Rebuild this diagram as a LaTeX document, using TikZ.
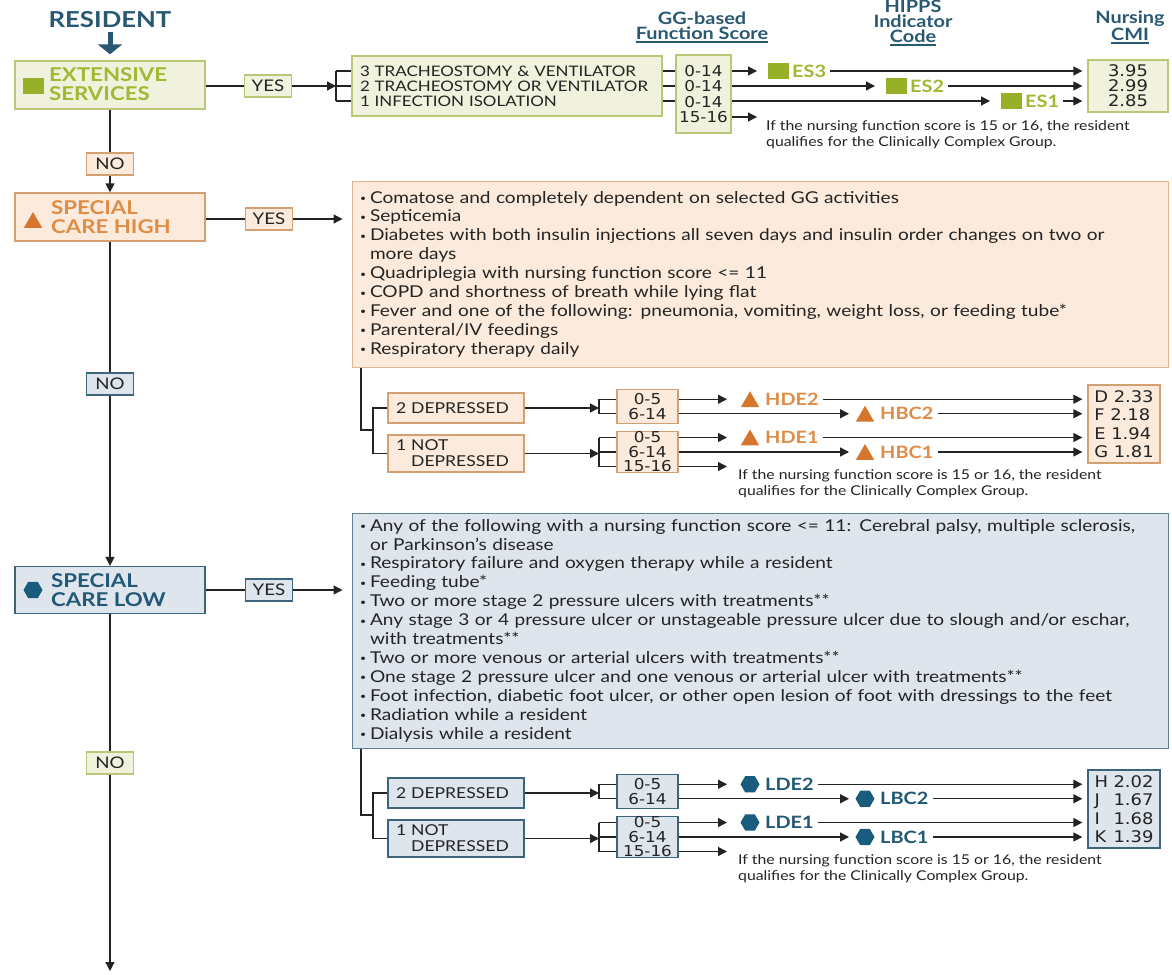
\documentclass[tikz,border=0pt]{standalone}
\usepackage{fontspec}
\setmainfont{Lato}[FakeStretch=1.17]
\newfontfamily\numfont{DejaVu Sans}[FakeStretch=1.12]
\usetikzlibrary{arrows.meta,shapes.geometric,positioning}

\definecolor{ink}{RGB}{35,35,35}
\definecolor{hdr}{RGB}{40,88,114}
\definecolor{gfill}{RGB}{240,242,222}
\definecolor{gline}{RGB}{188,198,118}
\definecolor{gtext}{RGB}{160,184,50}
\definecolor{gicon}{RGB}{150,176,40}
\definecolor{ofill}{RGB}{252,235,220}
\definecolor{oline}{RGB}{212,160,114}
\definecolor{olist}{RGB}{222,184,150}
\definecolor{otext}{RGB}{222,140,70}
\definecolor{oicon}{RGB}{214,118,44}
\definecolor{bfill}{RGB}{223,229,237}
\definecolor{bline}{RGB}{62,100,124}
\definecolor{blist}{RGB}{96,128,148}
\definecolor{btext}{RGB}{32,88,118}
\definecolor{bicon}{RGB}{26,92,126}

\newcommand\fsz[2]{\fontsize{#1}{#2}\selectfont}
\newcommand\hul[1]{\setbox0\hbox{#1}\rlap{\rule[-3.5pt]{\wd0}{1.6pt}}\box0}
\newcommand\bu{\makebox[10pt][l]{\raisebox{1.5pt}{\fsz{9}{9}\textbullet}}}
\newcommand\hangi{\hspace*{10pt}}
\newcommand\ccnote{If the nursing function score is 15 or 16, the resident\\qualifies for the Clinically Complex Group.}
\newcommand\cmih{D 2.33\\F 2.18\\E 1.94\\G 1.81}
\newcommand\cmil{\makebox[19pt][l]{H}2.02\\\makebox[19pt][l]{J}1.67\\\makebox[19pt][l]{I}1.68\\\makebox[19pt][l]{K}1.39}

\begin{document}
\begin{tikzpicture}[x=1pt,y=-1pt,
   conn/.style={draw=ink,line width=1.3pt},
   arr/.style={conn,-{Triangle[length=9pt,width=9pt]}},
   box/.style={draw,line width=1.3pt,inner sep=0pt,text=ink},
   gbox/.style={box,draw=gline,fill=gfill},
   obox/.style={box,draw=oline,fill=ofill},
   bbox/.style={box,draw=bline,fill=bfill},
   wh/.style 2 args={minimum width=#1,minimum height=#2},
   yn/.style={wh={47}{22},font=\fsz{16}{16}},
   head/.style={anchor=west,align=left,inner sep=0pt,font=\bfseries\fsz{19}{19.5}},
   hd/.style={align=center,inner sep=0pt,text=hdr,font=\bfseries\fsz{17}{15}},
   code/.style={anchor=west,inner sep=0pt,font=\bfseries\fsz{17}{17}},
   num/.style={align=center,font=\numfont\fsz{16}{15}},
   note/.style={anchor=north west,align=left,inner sep=0pt,text=ink,font=\fsz{13.5}{16.5}},
   list/.style={line width=1pt,text width=800,align=left,font=\fsz{16.3}{18.9}},
   sqicon/.style={fill=gicon,inner sep=0pt,wh={21}{16}},
   triicon/.style={regular polygon,regular polygon sides=3,fill=oicon,inner sep=0pt,minimum size=21,yshift=-2.5pt},
   hexicon/.style={regular polygon,regular polygon sides=6,fill=bicon,inner sep=0pt,minimum size=19}]
 \useasboundingbox (0,0) rectangle (1172,974);
 \fill[white] (0,0) rectangle (1172,974);

 % column heads
 \node[hd] (h-gg) at (702,27.5) {GG-based\\\hul{Function Score}};
 \node[hd] (h-hipps) at (913,23) {HIPPS\\Indicator\\\hul{Code}};
 \node[hd] (h-cmi) at (1130,27.5) {Nursing\\\hul{CMI}};

 % extensive services
 \node[font=\bfseries\fsz{22}{22},text=hdr] (res) at (110,20) {RESIDENT};
 \node[gbox,wh={190}{48}] (es) at (110,85) {};
 \draw[hdr,line width=5pt,-{Triangle[length=10pt,width=24pt]},shorten >=6pt] (res) -- (es);
 \node[sqicon] (es-ic) at (33,86) {};
 \node[head,text=gtext] (es-hd) at (49,84) {EXTENSIVE\\SERVICES};
 \node[gbox,yn] (es-yes) at (268,86) {YES};
 \draw[conn] (es.east |- es-yes) -- (es-yes);
 \node[gbox,wh={310}{60},text width=294,align=left,font=\fsz{14.5}{15}] (es-it) at (507,86)
   {3 TRACHEOSTOMY \& VENTILATOR\\2 TRACHEOSTOMY OR VENTILATOR\\1 INFECTION ISOLATION};
 \coordinate (es-br) at (336,86);
 \draw[arr] (es-yes) -- (es-br);
 \draw[conn] (es-br |- 0,71) -- (es-br |- 0,101);
 \node[gbox,num,wh={55}{78},font=\numfont\fsz{15}{15.3}] (es-sc) at (703.5,94) {0-14\\0-14\\0-14\\15-16};
 \node[gbox,num,wh={80}{52}] (es-cmi) at (1128,86) {3.95\\2.99\\2.85};
 \foreach \yy in {71,86,101}
 {\draw[conn] (es-br |- 0,\yy) -- (es-it.west |- 0,\yy);
  \draw[conn] (es-it.east |- 0,\yy) -- (es-sc.west |- 0,\yy);}
 \foreach \esn/\yy/\xa in {3/71/757,2/86/875,1/101/990}
 {\coordinate (es\esn-t) at (\xa,\yy);
  \node[sqicon] (es\esn-ic) at (\xa+21,\yy) {};
  \node[code,text=gtext] (es\esn) at (\xa+35,\yy) {ES\esn};
  \draw[arr] (es-sc.east |- es\esn-t) -- (es\esn-t);
  \draw[arr,shorten <=4pt,shorten >=5pt] (es\esn) -- (es-cmi.west |- es\esn);}
 \coordinate (es-q) at (757,117);
 \draw[arr] (es-sc.east |- es-q) -- (es-q);
 \node[note] (es-note) at (766,120) {\ccnote};

 % special care high
 \node[obox,yn] (no1) at (110,164) {NO};
 \node[obox,wh={190}{48}] (sch) at (110,217) {};
 \draw[conn] (es) -- (no1);
 \draw[arr] (no1) -- (sch);
 \node[triicon] (sch-ic) at (33,220) {};
 \node[head,text=otext] (sch-hd) at (51,217) {SPECIAL\\CARE HIGH};
 \node[obox,yn] (sch-yes) at (269,219) {YES};
 \node[obox,list,draw=olist,wh={816}{186}] (sch-list) at (760,274) {%
   \bu Comatose and completely dependent on selected GG activities\\
   \bu Septicemia\\
   \bu Diabetes with both insulin injections all seven days and insulin order changes on two or\\
   \hangi more days\\
   \bu Quadriplegia with nursing function score <= 11\\
   \bu COPD and shortness of breath while lying flat\\
   \bu Fever and one of the following: pneumonia, vomiting, weight loss, or feeding tube*\\
   \bu Parenteral/IV feedings\\
   \bu Respiratory therapy daily};
 \draw[conn] (sch.east |- sch-yes) -- (sch-yes);
 \draw[arr,shorten >=9pt] (sch-yes) -- (sch-yes -| sch-list.west);

 % special care low
 \node[bbox,yn] (no2) at (110,384) {NO};
 \node[bbox,wh={190}{47}] (scl) at (110,590) {};
 \draw[conn] (sch) -- (no2);
 \draw[arr] (no2) -- (scl);
 \node[hexicon] (scl-ic) at (33,590) {};
 \node[head,text=btext] (scl-hd) at (51,590) {SPECIAL\\CARE LOW};
 \node[bbox,yn] (scl-yes) at (269,590) {YES};
 \node[bbox,list,draw=blist,wh={816}{235}] (scl-list) at (760,630.5) {%
   \bu Any of the following with a nursing function score <= 11: Cerebral palsy, multiple sclerosis,\\
   \hangi or Parkinson's disease\\
   \bu Respiratory failure and oxygen therapy while a resident\\
   \bu Feeding tube*\\
   \bu Two or more stage 2 pressure ulcers with treatments**\\
   \bu Any stage 3 or 4 pressure ulcer or unstageable pressure ulcer due to slough and/or eschar,\\
   \hangi with treatments**\\
   \bu Two or more venous or arterial ulcers with treatments**\\
   \bu One stage 2 pressure ulcer and one venous or arterial ulcer with treatments**\\
   \bu Foot infection, diabetic foot ulcer, or other open lesion of foot with dressings to the feet\\
   \bu Radiation while a resident\\
   \bu Dialysis while a resident};
 \draw[conn] (scl.east |- scl-yes) -- (scl-yes);
 \draw[arr,shorten >=9pt] (scl-yes) -- (scl-yes -| scl-list.west);

 \node[gbox,yn] (no3) at (110,763) {NO};
 \coordinate (down) at (110,971);
 \draw[conn] (scl) -- (no3);
 \draw[arr] (no3) -- (down);

 % depression splits
 \foreach \s/\dy/\bx/\cc/\ic/\p/\cm in {sch/0/obox/otext/triicon/H/\cmih,scl/385/bbox/btext/hexicon/L/\cmil}
 {\coordinate (\s-fork) at (373,430+\dy);
  \draw[conn] (\s-list.south -| 361,0) |- (\s-fork);
  \node[\bx,wh={136}{30},text width=120,align=left,font=\fsz{15}{16}] (\s-d2) at (456,408+\dy) {2 DEPRESSED};
  \node[\bx,wh={136}{37},text width=120,align=left,font=\fsz{15}{16}] (\s-d1) at (456,453.5+\dy) {1 NOT\\\phantom{1 }DEPRESSED};
  \draw[conn] (\s-d2.west) -| (\s-fork);
  \draw[conn] (\s-d1.west) -| (\s-fork);
  \node[\bx,num,wh={61}{34},font=\numfont\fsz{15}{14.5}] (\s-sa) at (647.5,406.5+\dy) {0-5\\6-14};
  \node[\bx,num,wh={61}{40},font=\numfont\fsz{15}{14.5}] (\s-sb) at (647.5,452+\dy) {0-5\\6-14\\15-16};
  \node[\bx,num,align=left,wh={72}{78},font=\numfont\fsz{16}{18.5}] (\s-cmi) at (1124,424+\dy) {\cm};
  \coordinate (\s-ba) at (599,408+\dy);
  \coordinate (\s-bb) at (599,453.5+\dy);
  \draw[arr] (\s-d2) -- (\s-ba);
  \draw[arr] (\s-d1) -- (\s-bb);
  \draw[conn] (\s-ba |- 0,399.25+\dy) -- (\s-ba |- 0,413.75+\dy);
  \draw[conn] (\s-bb |- 0,437.5+\dy) -- (\s-bb |- 0,466.5+\dy);
  \foreach \yy in {399.25,413.75}
   \draw[conn] (\s-ba |- 0,\yy+\dy) -- (\s-sa.west |- 0,\yy+\dy);
  \foreach \yy in {437.5,452,466.5}
   \draw[conn] (\s-bb |- 0,\yy+\dy) -- (\s-sb.west |- 0,\yy+\dy);
  \foreach \rw/\yy/\xa/\xi/\cd in {1/399.25/727/750/DE2,2/413.75/849/865/BC2,3/437.5/727/750/DE1,4/452/849/865/BC1}
  {\coordinate (\s-t\rw) at (\xa,\yy+\dy);
   \node[\ic] (\s-i\rw) at (\xi,\yy+\dy) {};
   \node[code,text=\cc] (\s-c\rw) at (\xi+15,\yy+\dy) {\p\cd};
   \draw[arr] (\s-sa.east |- \s-t\rw) -- (\s-t\rw);
   \draw[arr,shorten <=4pt,shorten >=5pt] (\s-c\rw) -- (\s-cmi.west |- \s-c\rw);}
  \coordinate (\s-q) at (727,466.5+\dy);
  \draw[arr] (\s-sb.east |- \s-q) -- (\s-q);
  \node[note] (\s-note) at (738,469+\dy) {\ccnote};
 }
\end{tikzpicture}
\end{document}
